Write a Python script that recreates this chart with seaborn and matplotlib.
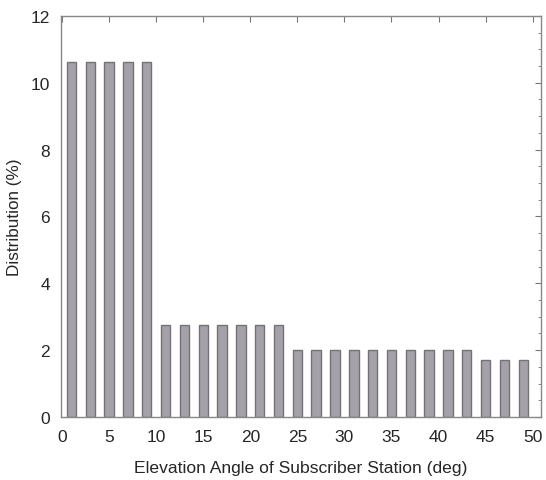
import matplotlib
matplotlib.use("Agg")
import matplotlib.pyplot as plt
import seaborn as sns
import numpy as np
from matplotlib.ticker import MultipleLocator

angle_centers = [1, 3, 5, 7, 9, 11, 13, 15, 17, 19, 21, 23, 25, 27, 29, 31, 33, 35, 37, 39, 41, 43, 45, 47, 49]
distribution = [10.63] * 5 + [2.75] * 7 + [2.01] * 10 + [1.69] * 3
xticks = [0, 5, 10, 15, 20, 25, 30, 35, 40, 45, 50]
yticks = [0, 2, 4, 6, 8, 10, 12]

sns.set_style("white")
plt.rcParams['font.family'] = ['Liberation Sans', 'DejaVu Sans']

fig = plt.figure(figsize=(5.46, 4.81), dpi=100)
ax = fig.add_axes([0.112, 0.131, 0.879, 0.834])

sns.barplot(x=angle_centers, y=distribution, native_scale=True, width=0.5,
            color="#a5a1a8", edgecolor="#747277", linewidth=1.0, saturation=1, ax=ax)

ax.set_xlim(-0.1, 50.9)
ax.set_ylim(0, 12)
ax.set_xticks(xticks)
ax.set_yticks(yticks)
ax.set_xticklabels([str(t) for t in xticks], fontsize=12.5)
ax.set_yticklabels([str(t) for t in yticks], fontsize=12.5)
ax.yaxis.set_minor_locator(MultipleLocator(0.5))
ax.tick_params(which='both', direction='in', top=True, right=True, color='#777777')
ax.tick_params(which='major', length=4, width=0.8)
ax.tick_params(axis='x', which='major', pad=9)
ax.tick_params(axis='y', which='major', pad=8)
ax.tick_params(which='minor', length=2, width=0.6)
ax.set_xlabel("Elevation Angle of Subscriber Station (deg)", fontsize=12.6, labelpad=11)
ax.set_ylabel("Distribution (%)", fontsize=12.3, labelpad=6)
for s in ax.spines.values():
    s.set_color('#888888')
    s.set_linewidth(1.0)

fig.savefig("out.png", dpi=100)
